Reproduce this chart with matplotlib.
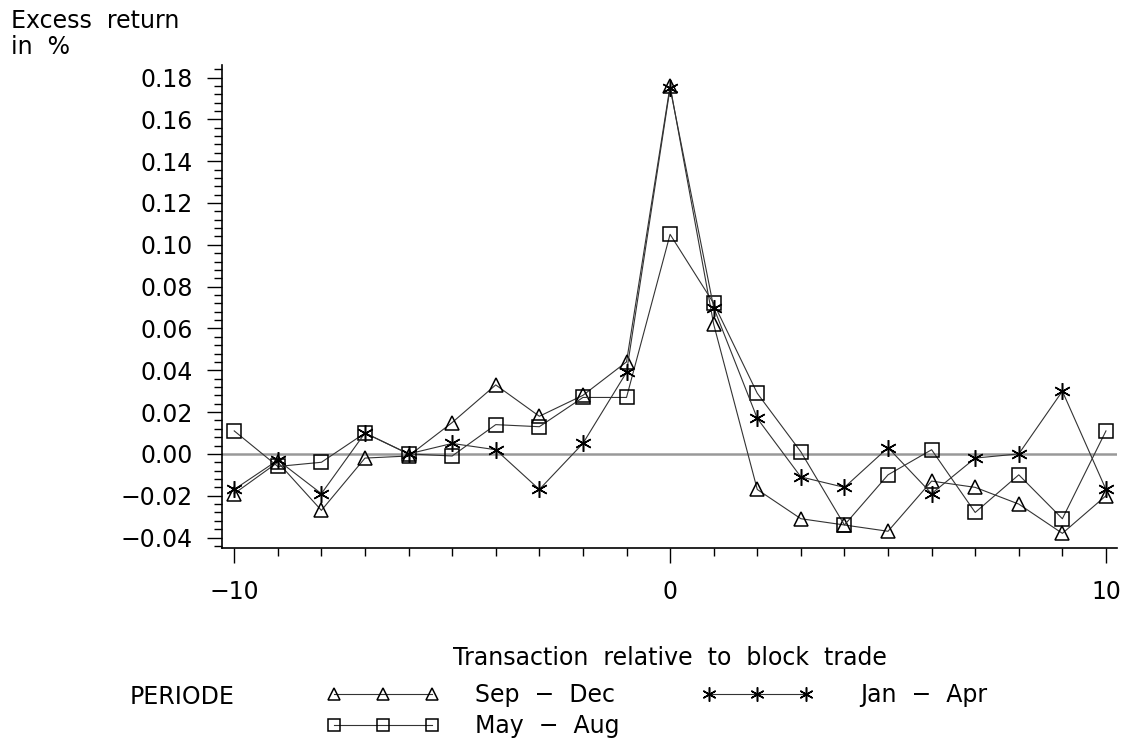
import numpy as np
import matplotlib.pyplot as plt
from matplotlib.ticker import MultipleLocator, FixedLocator

plt.rcParams['font.family'] = ['DejaVu Sans']

# Data
days = list(range(-10, 11))
sep_dec = [-0.019, -0.004, -0.027, -0.002, -0.001, 0.015, 0.033, 0.018, 0.028, 0.044, 0.176,
           0.062, -0.017, -0.031, -0.034, -0.037, -0.013, -0.016, -0.024, -0.038, -0.020]
may_aug = [0.011, -0.006, -0.004, 0.010, 0.000, -0.001, 0.014, 0.013, 0.027, 0.027, 0.105,
           0.072, 0.029, 0.001, -0.034, -0.010, 0.002, -0.028, -0.010, -0.031, 0.011]
jan_apr = [-0.017, -0.003, -0.019, 0.010, 0.000, 0.005, 0.002, -0.017, 0.005, 0.039, 0.175,
           0.070, 0.017, -0.011, -0.016, 0.003, -0.019, -0.002, 0.000, 0.030, -0.017]
y_ticks = [-0.04, -0.02, 0.00, 0.02, 0.04, 0.06, 0.08, 0.10, 0.12, 0.14, 0.16, 0.18]

fig = plt.figure(figsize=(11.27, 7.47), dpi=100)
ax = fig.add_axes([0.197, 0.2664, 0.794, 0.6466])

ax.axhline(0, color='#999999', linewidth=1.8, zorder=1)

line_kw = dict(color='#333333', linewidth=0.8, markerfacecolor='none',
               markeredgecolor='black', markeredgewidth=1.1, zorder=2)
l1, = ax.plot(days, sep_dec, marker='^', markersize=10.5, label='Sep  \u2212  Dec', **line_kw)
l2, = ax.plot(days, may_aug, marker='s', markersize=10, label='May  \u2212  Aug', **line_kw)
l3, = ax.plot(days, jan_apr, marker=(6, 2, 0), markersize=12, label='Jan  \u2212  Apr', **line_kw)

ax.set_xlim(-10.28, 10.25)
ax.set_ylim(-0.045, 0.186)
ax.xaxis.set_major_locator(FixedLocator([-10, 0, 10]))
ax.xaxis.set_minor_locator(MultipleLocator(1))
ax.yaxis.set_major_locator(FixedLocator(y_ticks))
ax.yaxis.set_minor_locator(MultipleLocator(0.004))
ax.yaxis.set_major_formatter(lambda v, p: ('%.2f' % v).replace('-', '\u2212'))
ax.xaxis.set_major_formatter(lambda v, p: ('%d' % v).replace('-', '\u2212'))

for s in ['top', 'right']:
    ax.spines[s].set_visible(False)
for s in ['left', 'bottom']:
    ax.spines[s].set_linewidth(1.2)

ax.tick_params(axis='both', which='major', labelsize=17, length=11, width=1, direction='out')
ax.tick_params(axis='both', which='minor', length=6, width=1, direction='out')
ax.tick_params(axis='x', which='major', pad=12)
ax.tick_params(axis='y', which='major', pad=10)

ax.set_xlabel('Transaction  relative  to  block  trade', fontsize=17, labelpad=30)
fig.text(0.010, 0.988, 'Excess  return\nin  %', fontsize=17, va='top', ha='left', linespacing=1.1)

fig.text(0.115, 1 - 697 / 747, 'PERIODE', fontsize=17, va='center', ha='left')
leg_kw = dict(frameon=False, fontsize=17, numpoints=3, markerscale=0.85,
              borderpad=0, borderaxespad=0, labelspacing=0.3, loc='upper left')
leg1 = fig.legend(handles=[l1, l2], bbox_to_anchor=(327 / 1127, 1 - 683 / 747),
                  handlelength=4.75, handletextpad=1.5, **leg_kw)
leg2 = fig.legend(handles=[l3], bbox_to_anchor=(702 / 1127, 1 - 683 / 747),
                  handlelength=4.7, handletextpad=2.0, **leg_kw)

fig.savefig('out.png', dpi=100)
